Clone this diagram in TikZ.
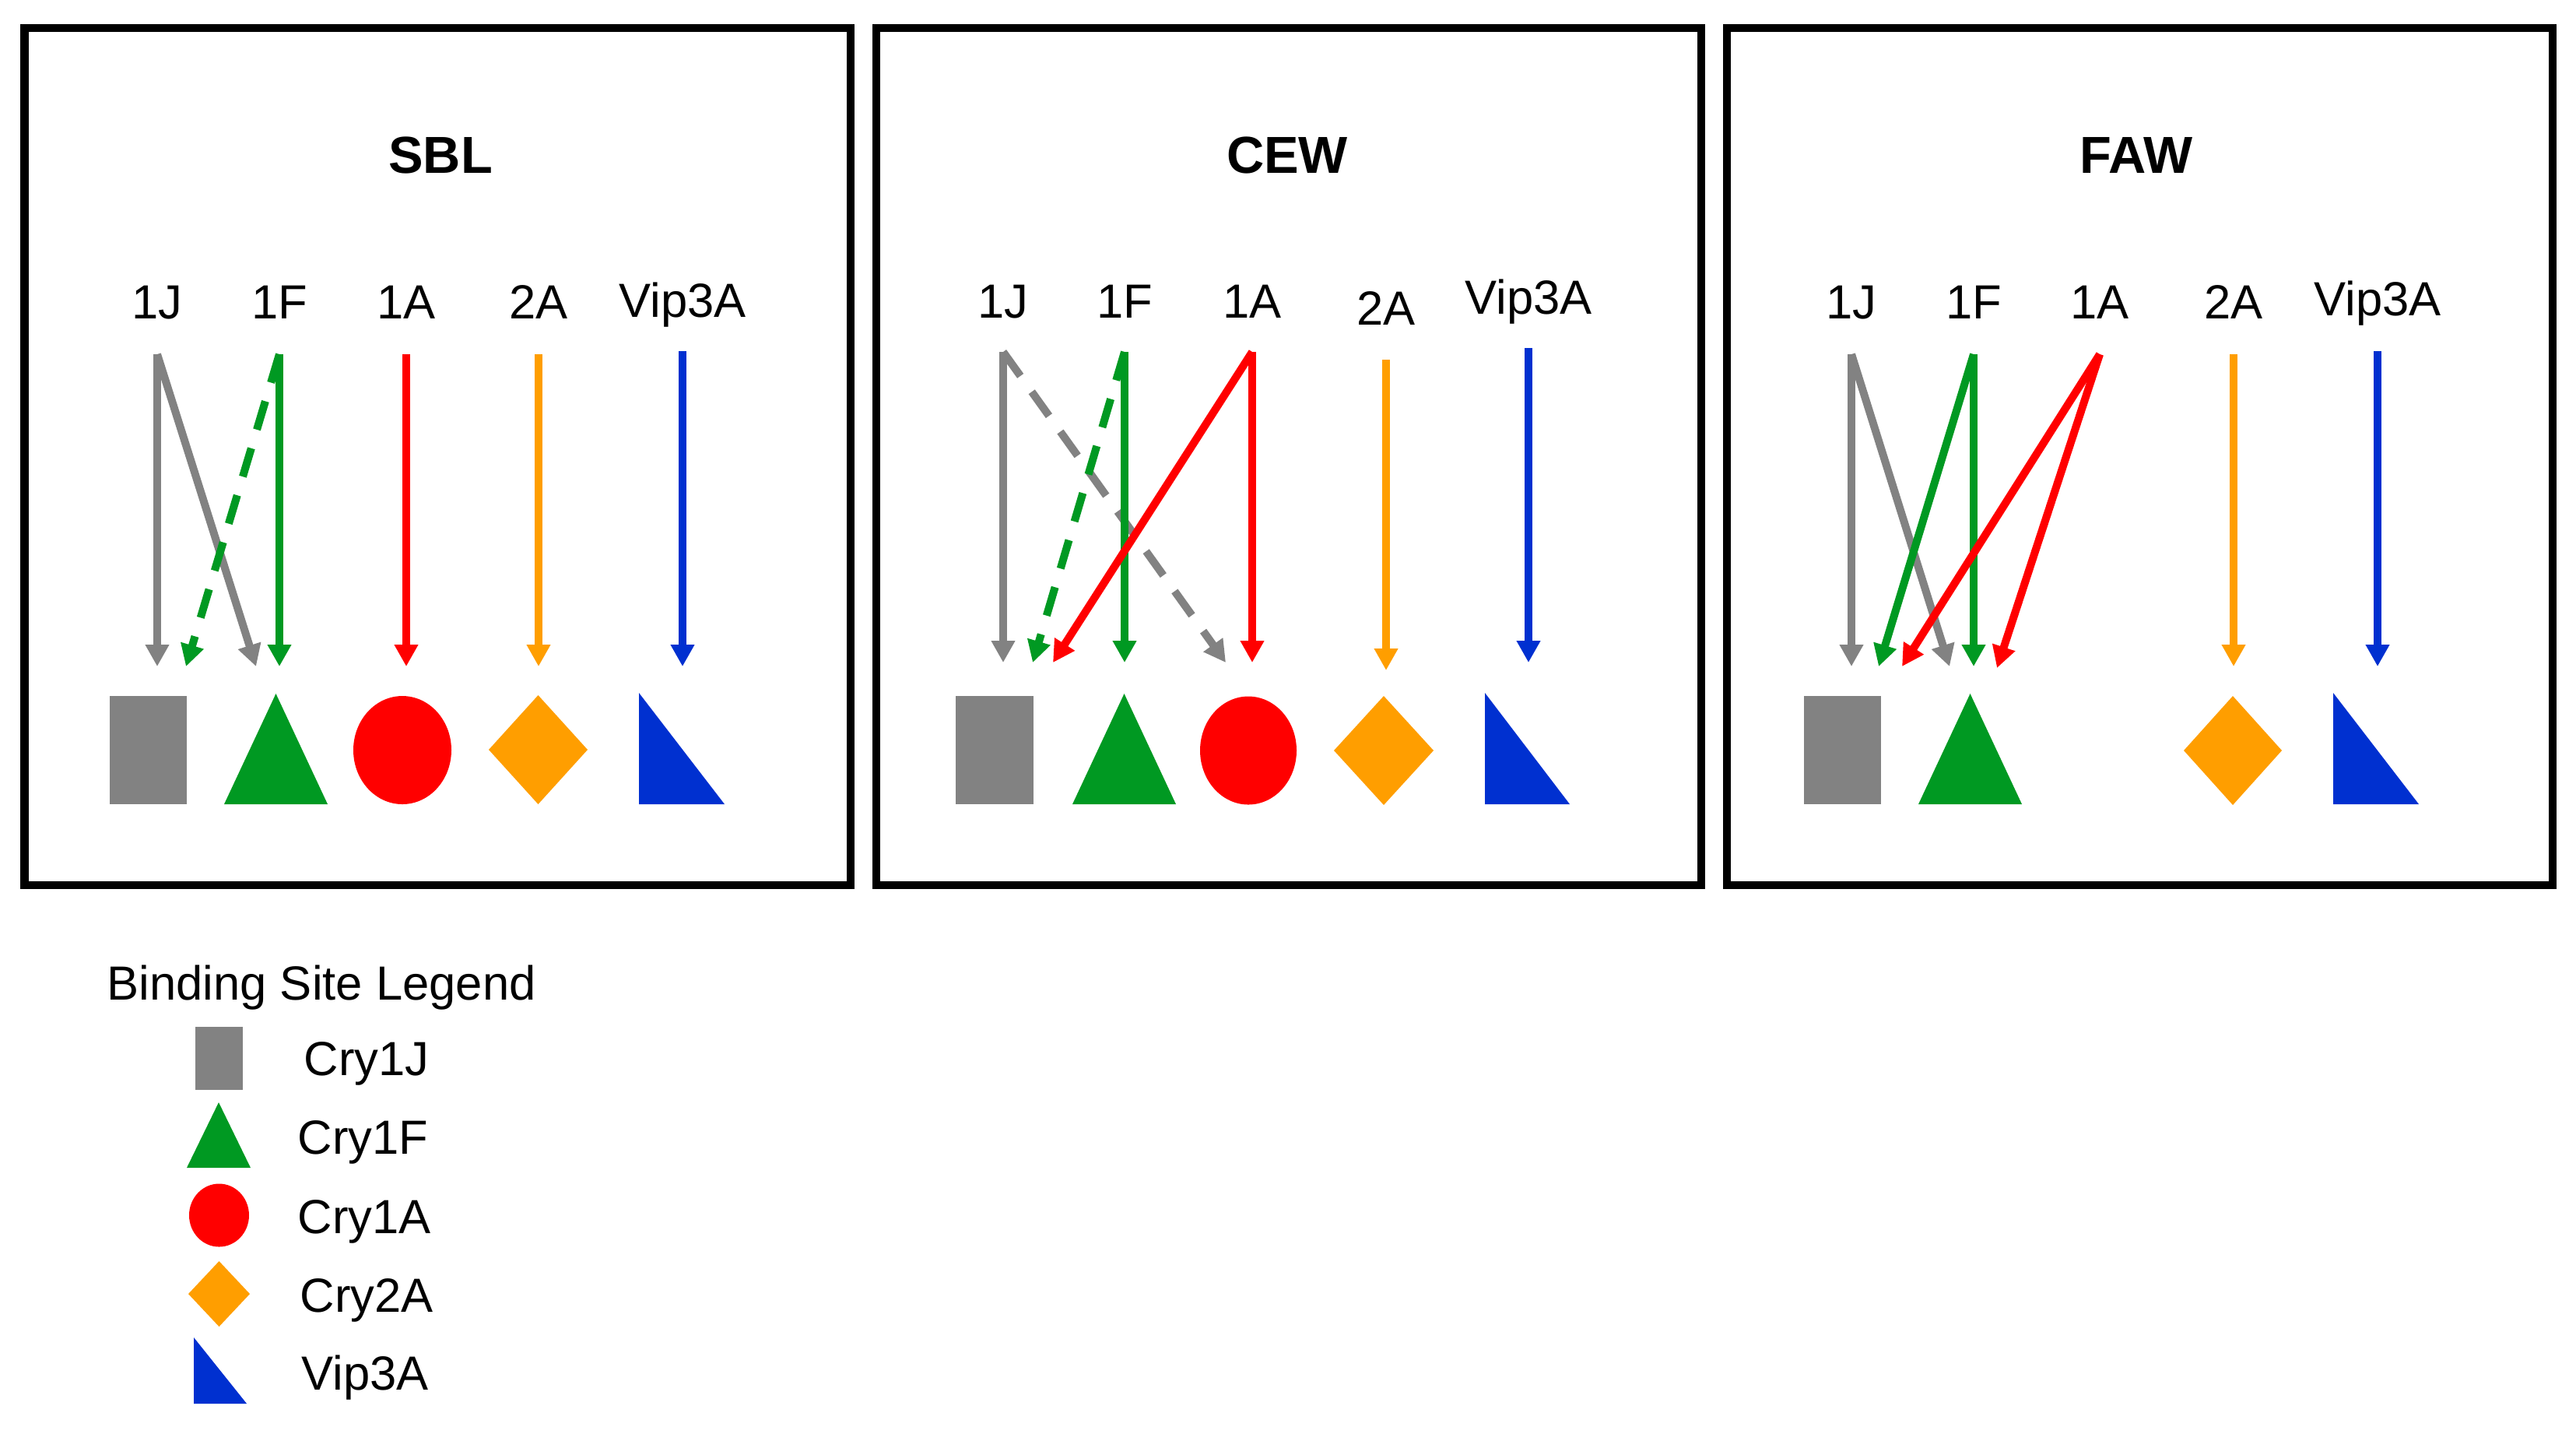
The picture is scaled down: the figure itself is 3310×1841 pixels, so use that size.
\documentclass[tikz,border=0pt]{standalone}
\usepackage{fontspec}
\setmainfont{Liberation Sans}
\usetikzlibrary{arrows.meta}
\definecolor{cJ}{RGB}{130,130,130}
\definecolor{cF}{RGB}{0,153,34}
\definecolor{cA}{RGB}{255,0,0}
\definecolor{cTwo}{RGB}{255,158,0}
\definecolor{cVip}{RGB}{0,48,208}
\tikzset{bind/.style={-{Triangle[width=.29cm,length=.28cm]},line width=.1cm},
    weak/.style={bind,dash pattern=on .38cm off .25cm},
    panel/.style={line width=.105cm},
    toxin/.style={font=\fontsize{17.5}{21}\selectfont,anchor=base,inner sep=0},
    insect/.style={font=\fontsize{19}{23}\selectfont\bfseries,anchor=base,inner sep=0},
    pics/site sq/.style n args={3}{code={\fill[#1] (-#2,-#3) rectangle (#2,#3);}},
    pics/site tri/.style n args={3}{code={\fill[#1] (-#2,#3) -- (0,-#3) -- (#2,#3) -- cycle;}},
    pics/site dot/.style n args={3}{code={\fill[#1] (0,0) ellipse [x radius=#2, y radius=#3];}},
    pics/site dia/.style n args={3}{code={\fill[#1] (-#2,0) -- (0,-#3) -- (#2,0) -- (0,#3) -- cycle;}},
    pics/site rtri/.style n args={3}{code={\fill[#1] (-#2,-#3) -- (-#2,#3) -- (#2,#3) -- cycle;}}}
\begin{document}
\begin{tikzpicture}[x=0.01cm,y=-0.01cm]
    \useasboundingbox (0,0) rectangle (3310,1841);

    % panels
    \draw[panel] (31.5,36) rectangle (1093,1137);
    \draw[panel] (1126,36) rectangle (2186,1137);
    \draw[panel] (2219,36) rectangle (3280,1137);

    \node[insect] (sbl) at (566,222) {SBL};
    \node[insect] (cew) at (1654,222) {CEW};
    \node[insect] (faw) at (2745,222) {FAW};

    % toxins and where their arrows start
    \foreach \t/\x/\y/\b in {1J/202/455/409, 1F/359/455/409, 1A/522/455/409, 2A/692/455/409, Vip3A/877/451/407}{
        \node[toxin] (sbl-\t) at (\x,\b) {\t};
        \coordinate (sbl-\t-src) at (\x,\y);}
    \foreach \t/\x/\y/\b in {1J/1289/452/408, 1F/1445/452/408, 1A/1609/452/408, 2A/1781/462/417, Vip3A/1964/447/403}{
        \node[toxin] (cew-\t) at (\x,\b) {\t};
        \coordinate (cew-\t-src) at (\x,\y);}
    \foreach \t/\x/\y/\b in {1J/2379/455/409, 1F/2536/455/409, 1A/2698/455/409, 2A/2870/455/409, Vip3A/3055/451/405}{
        \node[toxin] (faw-\t) at (\x,\b) {\t};
        \coordinate (faw-\t-src) at (\x,\y);}

    % SBL
    \coordinate (sbl-1J-J) at (202,856);
    \coordinate (sbl-1F-J) at (239,856);
    \coordinate (sbl-1J-F) at (329,856);
    \coordinate (sbl-1F-F) at (359,856);
    \coordinate (sbl-1A-A) at (522,856);
    \coordinate (sbl-2A-2) at (692,856);
    \coordinate (sbl-Vip3A-V) at (877,856);
    \draw[bind,cJ] (sbl-1J-src) -- (sbl-1J-J);
    \draw[bind,cJ] (sbl-1J-src) -- (sbl-1J-F);
    \draw[weak,cF] (sbl-1F-src) -- (sbl-1F-J);
    \draw[bind,cF] (sbl-1F-src) -- (sbl-1F-F);
    \draw[bind,cA] (sbl-1A-src) -- (sbl-1A-A);
    \draw[bind,cTwo] (sbl-2A-src) -- (sbl-2A-2);
    \draw[bind,cVip] (sbl-Vip3A-src) -- (sbl-Vip3A-V);
    \pic (sbl-J) at (190.5,963.5) {site sq={cJ}{49.5}{69.5}};
    \pic (sbl-F) at (354.5,962) {site tri={cF}{66.5}{71}};
    \pic (sbl-A) at (517,963.5) {site dot={cA}{63}{69.5}};
    \pic (sbl-2) at (691.5,963) {site dia={cTwo}{63.5}{70}};
    \pic (sbl-V) at (876,961.5) {site rtri={cVip}{55}{71.5}};

    % CEW
    \coordinate (cew-1J-J) at (1289,851);
    \coordinate (cew-1F-J) at (1327,851);
    \coordinate (cew-1A-J) at (1353,851);
    \coordinate (cew-1F-F) at (1445,851);
    \coordinate (cew-1J-A) at (1575,851);
    \coordinate (cew-1A-A) at (1609,851);
    \coordinate (cew-2A-2) at (1781,861);
    \coordinate (cew-Vip3A-V) at (1964,851);
    \draw[bind,cJ] (cew-1J-src) -- (cew-1J-J);
    \draw[weak,cJ] (cew-1J-src) -- (cew-1J-A);
    \draw[weak,cF] (cew-1F-src) -- (cew-1F-J);
    \draw[bind,cF] (cew-1F-src) -- (cew-1F-F);
    \draw[bind,cA] (cew-1A-src) -- (cew-1A-J);
    \draw[bind,cA] (cew-1A-src) -- (cew-1A-A);
    \draw[bind,cTwo] (cew-2A-src) -- (cew-2A-2);
    \draw[bind,cVip] (cew-Vip3A-src) -- (cew-Vip3A-V);
    \pic (cew-J) at (1278,963.5) {site sq={cJ}{50}{69.5}};
    \pic (cew-F) at (1444.5,962) {site tri={cF}{66.5}{71}};
    \pic (cew-A) at (1604,964) {site dot={cA}{62}{69.5}};
    \pic (cew-2) at (1778,964) {site dia={cTwo}{64}{70}};
    \pic (cew-V) at (1962.5,961.5) {site rtri={cVip}{54.5}{71.5}};

    % FAW
    \coordinate (faw-1J-J) at (2379,856);
    \coordinate (faw-1F-J) at (2414,856);
    \coordinate (faw-1A-J) at (2444,856);
    \coordinate (faw-1J-F) at (2505,856);
    \coordinate (faw-1F-F) at (2536,856);
    \coordinate (faw-1A-F) at (2566,858);
    \coordinate (faw-2A-2) at (2870,856);
    \coordinate (faw-Vip3A-V) at (3055,856);
    \draw[bind,cJ] (faw-1J-src) -- (faw-1J-J);
    \draw[bind,cJ] (faw-1J-src) -- (faw-1J-F);
    \draw[bind,cF] (faw-1F-src) -- (faw-1F-J);
    \draw[bind,cF] (faw-1F-src) -- (faw-1F-F);
    \draw[bind,cA] (faw-1A-src) -- (faw-1A-J);
    \draw[bind,cA] (faw-1A-src) -- (faw-1A-F);
    \draw[bind,cTwo] (faw-2A-src) -- (faw-2A-2);
    \draw[bind,cVip] (faw-Vip3A-src) -- (faw-Vip3A-V);
    \pic (faw-J) at (2367.5,963.5) {site sq={cJ}{49.5}{69.5}};
    \pic (faw-F) at (2531.5,962) {site tri={cF}{66.5}{71}};
    \pic (faw-2) at (2869,964) {site dia={cTwo}{63}{70}};
    \pic (faw-V) at (3053,961.5) {site rtri={cVip}{55}{71.5}};

    % legend
    \node[toxin,anchor=base west] (legend) at (137,1284) {Binding Site Legend};
    \pic (leg-J) at (281.5,1359) {site sq={cJ}{30.5}{40.5}};
    \pic (leg-F) at (281,1458) {site tri={cF}{41}{42}};
    \pic (leg-A) at (281.5,1561) {site dot={cA}{38.5}{40.5}};
    \pic (leg-2) at (281.5,1662) {site dia={cTwo}{39.5}{42}};
    \pic (leg-V) at (283,1760.5) {site rtri={cVip}{34}{42.5}};
    \node[toxin,anchor=base west] (leg-J-txt) at (390,1381) {Cry1J};
    \node[toxin,anchor=base west] (leg-F-txt) at (382,1482) {Cry1F};
    \node[toxin,anchor=base west] (leg-A-txt) at (382,1584) {Cry1A};
    \node[toxin,anchor=base west] (leg-2-txt) at (385,1685) {Cry2A};
    \node[toxin,anchor=base west] (leg-V-txt) at (387,1785) {Vip3A};
\end{tikzpicture}
\end{document}
